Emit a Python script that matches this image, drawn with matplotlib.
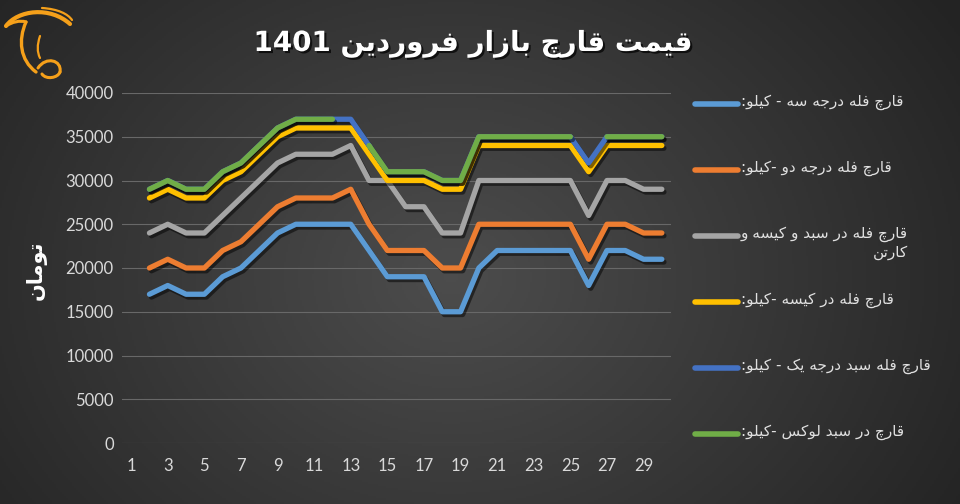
import re
import numpy as np
import matplotlib
matplotlib.use('Agg')
from matplotlib import pyplot as plt
from matplotlib import patheffects as pe
from matplotlib.path import Path
from matplotlib.patches import PathPatch
from matplotlib.lines import Line2D

# data: days of Farvardin 1401, price in toman
days = list(range(2, 31))
grade3 = [17000, 18000, 17000, 17000, 19000, 20000, 22000, 24000, 25000, 25000, 25000, 25000, 22000, 19000, 19000,
          19000, 15000, 15000, 20000, 22000, 22000, 22000, 22000, 22000, 18000, 22000, 22000, 21000, 21000]
grade2 = [20000, 21000, 20000, 20000, 22000, 23000, 25000, 27000, 28000, 28000, 28000, 29000, 25000, 22000, 22000,
          22000, 20000, 20000, 25000, 25000, 25000, 25000, 25000, 25000, 21000, 25000, 25000, 24000, 24000]
carton = [24000, 25000, 24000, 24000, 26000, 28000, 30000, 32000, 33000, 33000, 33000, 34000, 30000, 30000, 27000,
          27000, 24000, 24000, 30000, 30000, 30000, 30000, 30000, 30000, 26000, 30000, 30000, 29000, 29000]
bag = [28000, 29000, 28000, 28000, 30000, 31000, 33000, 35000, 36000, 36000, 36000, 36000, 33000, 30000, 30000,
       30000, 29000, 29000, 34000, 34000, 34000, 34000, 34000, 34000, 31000, 34000, 34000, 34000, 34000]
grade1 = [29000, 30000, 29000, 29000, 31000, 32000, 34000, 36000, 37000, 37000, 37000, 37000, 34000, 31000, 31000,
          31000, 30000, 30000, 35000, 35000, 35000, 35000, 35000, 35000, 32000, 35000, 35000, 35000, 35000]
lux = [29000, 30000, 29000, 29000, 31000, 32000, 34000, 36000, 37000, 37000, 37000, None, 34000, 31000, 31000,
       31000, 30000, 30000, 35000, 35000, 35000, 35000, 35000, 35000, None, 35000, 35000, 35000, 35000]

labels = ['قارچ فله درجه سه - کیلو:',
          'قارچ فله درجه دو -کیلو:',
          'قارچ فله در سبد و کیسه و\nکارتن',
          'قارچ فله در کیسه -کیلو:',
          'قارچ فله سبد درجه یک - کیلو:',
          'قارچ در سبد لوکس -کیلو:']
colors = ['#5B9BD5', '#ED7D31', '#A5A5A5', '#FFC000', '#4472C4', '#70AD47']
title = 'قیمت قارچ بازار فروردین 1401'
ylabel = 'تومان'

# tiny persian shaper (matplotlib has no arabic shaping / bidi)
FORMS = {
    'ا': (0xFE8D, 0xFE8E, None, None), 'ب': (0xFE8F, 0xFE90, 0xFE91, 0xFE92),
    'ت': (0xFE95, 0xFE96, 0xFE97, 0xFE98), 'ج': (0xFE9D, 0xFE9E, 0xFE9F, 0xFEA0),
    'چ': (0xFB7A, 0xFB7B, 0xFB7C, 0xFB7D), 'د': (0xFEA9, 0xFEAA, None, None),
    'ر': (0xFEAD, 0xFEAE, None, None), 'ز': (0xFEAF, 0xFEB0, None, None),
    'س': (0xFEB1, 0xFEB2, 0xFEB3, 0xFEB4), 'ف': (0xFED1, 0xFED2, 0xFED3, 0xFED4),
    'ق': (0xFED5, 0xFED6, 0xFED7, 0xFED8), 'ک': (0xFB8E, 0xFB8F, 0xFB90, 0xFB91),
    'ل': (0xFEDD, 0xFEDE, 0xFEDF, 0xFEE0), 'م': (0xFEE1, 0xFEE2, 0xFEE3, 0xFEE4),
    'ن': (0xFEE5, 0xFEE6, 0xFEE7, 0xFEE8), 'ه': (0xFEE9, 0xFEEA, 0xFEEB, 0xFEEC),
    'و': (0xFEED, 0xFEEE, None, None), 'ی': (0xFBFC, 0xFBFD, 0xFBFE, 0xFBFF),
}


def shape_line(s):
    out = []
    for i, c in enumerate(s):
        if c not in FORMS:
            out.append(c)
            continue
        iso, fin, ini, med = FORMS[c]
        prev = s[i - 1] if i > 0 else ''
        nxt = s[i + 1] if i + 1 < len(s) else ''
        p = prev in FORMS and FORMS[prev][2] is not None
        n = ini is not None and nxt in FORMS
        g = med if (p and n) else fin if p else ini if n else iso
        out.append(chr(g))
    vis = ''.join(out)[::-1]
    return re.sub(r'[0-9]+', lambda m: m.group(0)[::-1], vis)


def shape(s):
    return '\n'.join(shape_line(l) for l in s.split('\n'))


W, H = 960, 504
fig = plt.figure(figsize=(9.6, 5.04), dpi=100)

# background gradient
bg = fig.add_axes([0, 0, 1, 1], zorder=-10)
gx, gy = np.meshgrid(np.linspace(0, 1, 480), np.linspace(0, 1, 252))
r = np.sqrt(((gx - 0.47) / 0.62) ** 2 + ((gy - 0.45) / 0.95) ** 2)
shade = np.clip(0.30 - 0.16 * r, 0.14, 0.30)
bg.imshow(np.dstack([shade] * 3), extent=[0, 1, 0, 1], aspect='auto', origin='lower')
bg.axis('off')

ax = fig.add_axes([122 / W, 61 / H, 549 / W, 350 / H])
ax.set_facecolor('none')
series = [grade3, grade2, carton, bag, grade1, lux]
shadow = [pe.SimpleLineShadow(offset=(1.5, -2), shadow_color='black', alpha=0.5), pe.Normal()]
for vals, c in zip(series, colors):
    y = np.array([np.nan if v is None else v for v in vals], dtype=float)
    ax.plot(days, y, color=c, lw=3.8, solid_capstyle='round', solid_joinstyle='round', path_effects=shadow)

ax.set_xlim(0.5, 30.5)
ax.set_ylim(0, 40000)
ax.set_xticks(range(1, 30, 2))
ax.set_yticks(range(0, 40001, 5000))
ax.grid(axis='y', color='#686868', lw=0.8)
ax.set_axisbelow(True)
for s in ax.spines.values():
    s.set_visible(False)
ax.tick_params(length=0, colors='#d9d9d9', labelsize=12, pad=6)
for t in ax.get_xticklabels() + ax.get_yticklabels():
    t.set_fontfamily('Lato')
ax.tick_params(axis='x', pad=11)

fig.text(36 / W, 1 - 270 / H, shape(ylabel), rotation=90, ha='center', va='center', color='white',
         fontsize=15, fontweight='bold', family='DejaVu Sans')

fig.text(473 / W, 1 - 44 / H, shape(title), ha='center', va='center', color='white', fontsize=20,
         fontweight='bold', family='DejaVu Sans',
         path_effects=[pe.withSimplePatchShadow(offset=(1.5, -1.5), shadow_rgbFace='black', alpha=0.7)])

# legend
for i, (lab, c) in enumerate(zip(labels, colors)):
    ypx = 104 + i * 66
    fig.add_artist(Line2D([695 / W, 738 / W], [1 - ypx / H] * 2, color=c, lw=4, solid_capstyle='round'))
    txt = fig.text(741 / W, 1 - (ypx - 10) / H, shape(lab), ha='left', va='top', color='#e0e0e0',
                   fontsize=11, family='DejaVu Sans', linespacing=1.3)
    txt.set_multialignment('right')

# logo
lg = fig.add_axes([0, 1 - 100 / H, 100 / W, 100 / H])
lg.set_xlim(0, 100)
lg.set_ylim(100, 0)
lg.axis('off')
orange = '#F5A01A'
C4 = [Path.MOVETO, Path.CURVE4, Path.CURVE4, Path.CURVE4]
curves = [
    ([(6, 26), (18, 10), (50, 6), (70, 24)], 3.0),
    ([(42, 8), (58, 9), (68, 14), (72, 20)], 1.6),
    ([(6, 26), (12, 22), (20, 20), (26, 22)], 2.2),
    ([(26, 22), (18, 40), (20, 60), (36, 72)], 2.4),
    ([(40, 36), (37, 45), (37, 52), (40, 58)], 1.6),
    ([(38, 68), (46, 56), (62, 60), (60, 72)], 2.2),
    ([(60, 72), (58, 78), (46, 80), (42, 74)], 2.2),
]
for pts, w in curves:
    lg.add_patch(PathPatch(Path(pts, C4), fc='none', ec=orange, lw=w, capstyle='round'))

fig.savefig('out.png', dpi=100)
